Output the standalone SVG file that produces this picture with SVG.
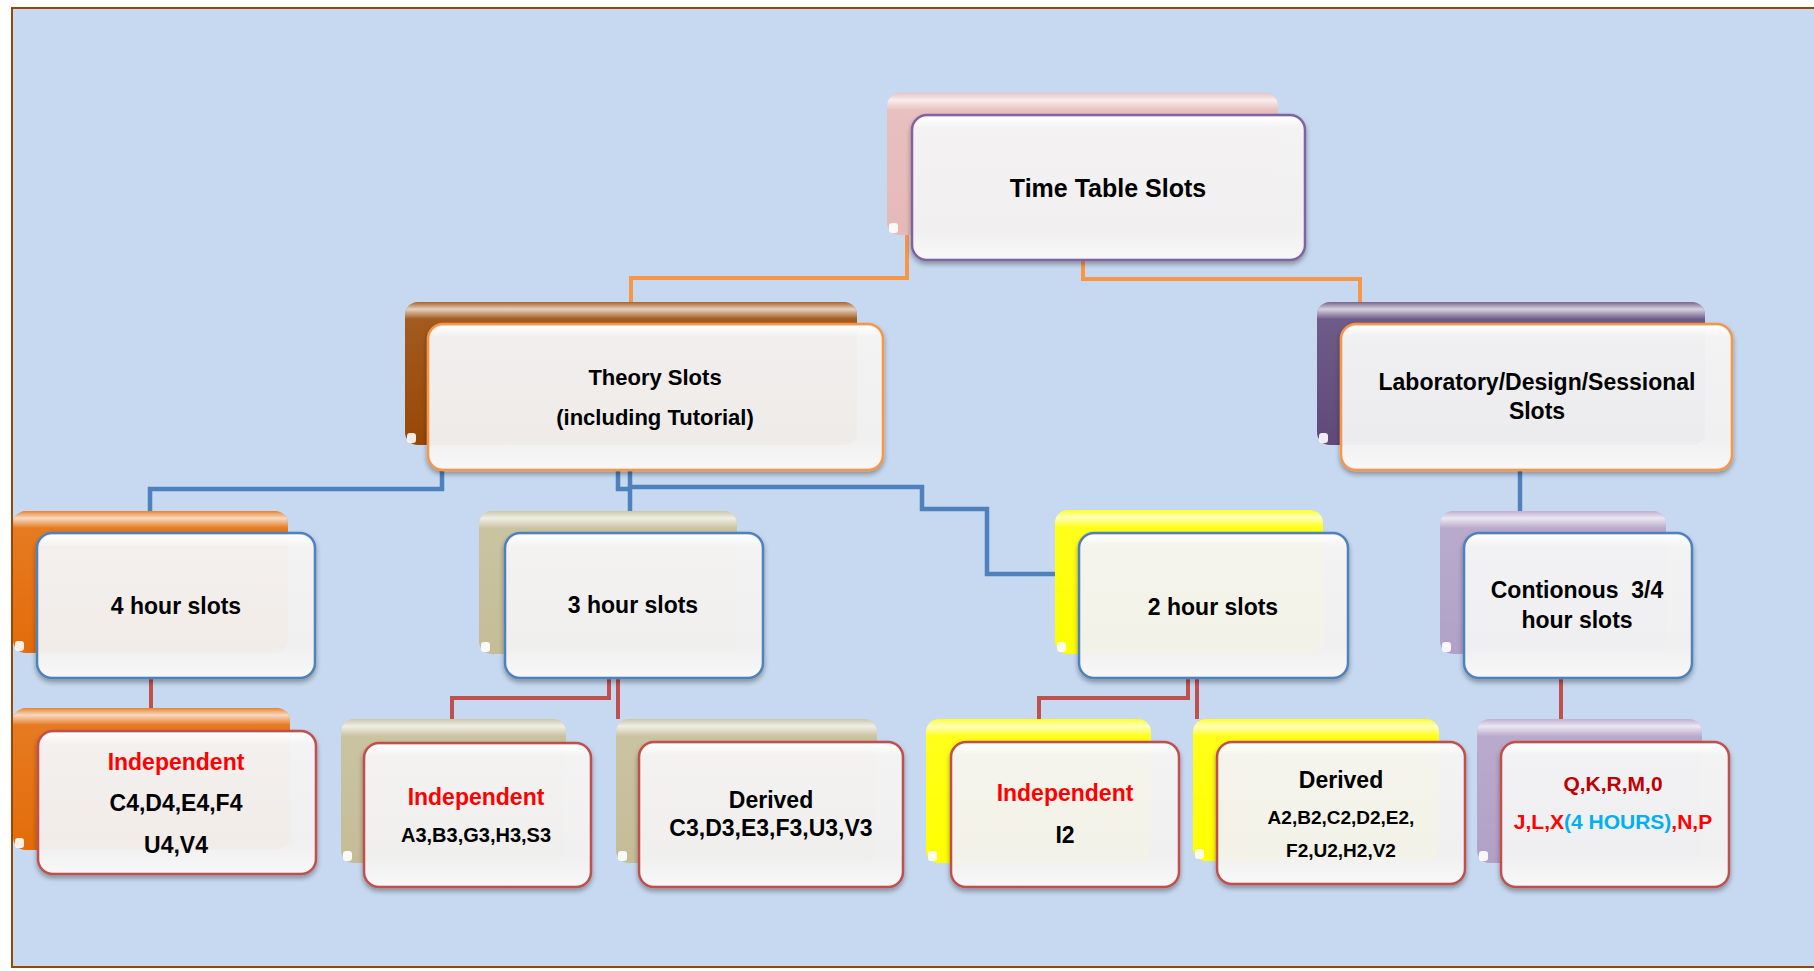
<svg xmlns="http://www.w3.org/2000/svg" width="1814" height="971" viewBox="0 0 1814 971">
<style>
text{font-family:"Liberation Sans",Arial,sans-serif;font-weight:bold;text-anchor:middle;fill:#000}
.red{fill:#ff0000}
.dred{fill:#c00000}
.cyan{fill:#00b0f0}
.back{stroke:none}
.gloss{fill:url(#gl)}
.front{fill:#f3f3f3;fill-opacity:0.94;stroke-width:2.5;filter:url(#sh)}
.fgloss{fill:url(#fgl)}
.corner{fill:#fff;fill-opacity:0.9}
.c-or{fill:none;stroke:#f79646;stroke-width:4}
.c-bl{fill:none;stroke:#4f81bd;stroke-width:4.5}
.c-rd{fill:none;stroke:#c0504d;stroke-width:4}
.b-pu{stroke:#8064a2}
.b-or{stroke:#f79646}
.b-bl{stroke:#4f81bd}
.b-rd{stroke:#c0504d}
</style>
<defs>
<linearGradient id="gl" x1="0" y1="0" x2="0" y2="1">
<stop offset="0" stop-color="#fff" stop-opacity="0.15"/>
<stop offset="0.05" stop-color="#fff" stop-opacity="0.75"/>
<stop offset="0.12" stop-color="#fff" stop-opacity="0.1"/>
<stop offset="1" stop-color="#fff" stop-opacity="0"/>
</linearGradient>
<linearGradient id="fgl" x1="0" y1="0" x2="0" y2="1">
<stop offset="0" stop-color="#fff" stop-opacity="1"/>
<stop offset="0.08" stop-color="#fff" stop-opacity="0.2"/>
<stop offset="0.8" stop-color="#fff" stop-opacity="0"/>
<stop offset="1" stop-color="#fff" stop-opacity="0.5"/>
</linearGradient>
<filter id="sh" x="-10%" y="-10%" width="120%" height="130%">
<feDropShadow dx="0" dy="3" stdDeviation="2.5" flood-color="#000" flood-opacity="0.35"/>
</filter>
</defs>
<rect x="0" y="0" width="1814" height="971" fill="#fff"/>
<rect x="12" y="8" width="1810" height="959" fill="#c6d9f0" stroke="#984806" stroke-width="2"/>

<g id="connectors">
<path class="c-or" d="M907,235 V278 H631 V302"/>
<path class="c-or" d="M1083,260 V279 H1360 V302"/>
<path class="c-bl" d="M442,470 V489 H150 V511"/>
<path class="c-bl" d="M618,470 V489 H630 V511"/>
<path class="c-bl" d="M630,470 V487 H922 V509 H987 V574 H1055"/>
<path class="c-bl" d="M1520,470 V511"/>
<path class="c-rd" d="M151,678 V708"/>
<path class="c-rd" d="M609,677 V698 H452 V719"/>
<path class="c-rd" d="M618,677 V719"/>
<path class="c-rd" d="M1188,678 V698 H1039 V719"/>
<path class="c-rd" d="M1197,678 V719"/>
<path class="c-rd" d="M1561,678 V719"/>
</g>

<g id="n-root">
<rect class="back" x="887" y="93" width="391" height="142" rx="13" fill="#e6b9b8"/>
<rect class="gloss" x="887" y="93" width="391" height="142" rx="13"/>
<rect class="corner" x="889" y="223" width="9" height="10" rx="3"/>
<rect class="front b-pu" x="912" y="115" width="393" height="145" rx="15"/>
<rect class="fgloss" x="914" y="117" width="389" height="141" rx="13"/>
<text x="1108" y="197" font-size="25">Time Table Slots</text>
</g>

<g id="n-theory">
<rect class="back" x="405" y="302" width="452" height="143" rx="13" fill="#984806"/>
<rect class="gloss" x="405" y="302" width="452" height="143" rx="13"/>
<rect class="corner" x="407" y="433" width="9" height="10" rx="3"/>
<rect class="front b-or" x="428" y="324" width="455" height="146" rx="15"/>
<rect class="fgloss" x="430" y="326" width="451" height="142" rx="13"/>
<text x="655" y="385" font-size="22">Theory Slots</text>
<text x="655" y="425" font-size="22">(including Tutorial)</text>
</g>

<g id="n-lab">
<rect class="back" x="1317" y="302" width="388" height="143" rx="13" fill="#5f497a"/>
<rect class="gloss" x="1317" y="302" width="388" height="143" rx="13"/>
<rect class="corner" x="1319" y="433" width="9" height="10" rx="3"/>
<rect class="front b-or" x="1341" y="324" width="391" height="146" rx="15"/>
<rect class="fgloss" x="1343" y="326" width="387" height="142" rx="13"/>
<text x="1537" y="390" font-size="23">Laboratory/Design/Sessional</text>
<text x="1537" y="419" font-size="23">Slots</text>
</g>

<g id="n-4h">
<rect class="back" x="13" y="511" width="275" height="142" rx="13" fill="#e36c09"/>
<rect class="gloss" x="13" y="511" width="275" height="142" rx="13"/>
<rect class="corner" x="15" y="641" width="9" height="10" rx="3"/>
<rect class="front b-bl" x="37" y="533" width="278" height="145" rx="15"/>
<rect class="fgloss" x="39" y="535" width="274" height="141" rx="13"/>
<text x="176" y="614" font-size="23">4 hour slots</text>
</g>

<g id="n-3h">
<rect class="back" x="479" y="511" width="258" height="143" rx="13" fill="#c4bd97"/>
<rect class="gloss" x="479" y="511" width="258" height="143" rx="13"/>
<rect class="corner" x="481" y="642" width="9" height="10" rx="3"/>
<rect class="front b-bl" x="505" y="533" width="258" height="145" rx="15"/>
<rect class="fgloss" x="507" y="535" width="254" height="141" rx="13"/>
<text x="633" y="613" font-size="23">3 hour slots</text>
</g>

<g id="n-2h">
<rect class="back" x="1055" y="510" width="268" height="144" rx="13" fill="#ffff00"/>
<rect class="gloss" x="1055" y="510" width="268" height="144" rx="13"/>
<rect class="corner" x="1057" y="642" width="9" height="10" rx="3"/>
<rect class="front b-bl" x="1079" y="533" width="269" height="145" rx="15"/>
<rect class="fgloss" x="1081" y="535" width="265" height="141" rx="13"/>
<text x="1213" y="615" font-size="23">2 hour slots</text>
</g>

<g id="n-cont">
<rect class="back" x="1440" y="511" width="226" height="143" rx="13" fill="#b2a1c7"/>
<rect class="gloss" x="1440" y="511" width="226" height="143" rx="13"/>
<rect class="corner" x="1442" y="642" width="9" height="10" rx="3"/>
<rect class="front b-bl" x="1464" y="533" width="228" height="145" rx="15"/>
<rect class="fgloss" x="1466" y="535" width="224" height="141" rx="13"/>
<text x="1577" y="598" font-size="23" xml:space="preserve">Contionous  3/4</text>
<text x="1577" y="628" font-size="23">hour slots</text>
</g>

<g id="n-ind4">
<rect class="back" x="13" y="708" width="277" height="142" rx="13" fill="#e36c09"/>
<rect class="gloss" x="13" y="708" width="277" height="142" rx="13"/>
<rect class="corner" x="15" y="838" width="9" height="10" rx="3"/>
<rect class="front b-rd" x="38" y="731" width="278" height="143" rx="15"/>
<rect class="fgloss" x="40" y="733" width="274" height="139" rx="13"/>
<text class="red" x="176" y="770" font-size="23">Independent</text>
<text x="176" y="811" font-size="23">C4,D4,E4,F4</text>
<text x="176" y="853" font-size="23">U4,V4</text>
</g>

<g id="n-ind3">
<rect class="back" x="341" y="719" width="225" height="144" rx="13" fill="#c4bd97"/>
<rect class="gloss" x="341" y="719" width="225" height="144" rx="13"/>
<rect class="corner" x="343" y="851" width="9" height="10" rx="3"/>
<rect class="front b-rd" x="364" y="743" width="227" height="144" rx="15"/>
<rect class="fgloss" x="366" y="745" width="223" height="140" rx="13"/>
<text class="red" x="476" y="805" font-size="23">Independent</text>
<text x="476" y="842" font-size="20">A3,B3,G3,H3,S3</text>
</g>

<g id="n-der3">
<rect class="back" x="616" y="719" width="261" height="144" rx="13" fill="#c4bd97"/>
<rect class="gloss" x="616" y="719" width="261" height="144" rx="13"/>
<rect class="corner" x="618" y="851" width="9" height="10" rx="3"/>
<rect class="front b-rd" x="639" y="742" width="264" height="145" rx="15"/>
<rect class="fgloss" x="641" y="744" width="260" height="141" rx="13"/>
<text x="771" y="808" font-size="23">Derived</text>
<text x="771" y="836" font-size="23">C3,D3,E3,F3,U3,V3</text>
</g>

<g id="n-ind2">
<rect class="back" x="926" y="719" width="225" height="144" rx="13" fill="#ffff00"/>
<rect class="gloss" x="926" y="719" width="225" height="144" rx="13"/>
<rect class="corner" x="928" y="851" width="9" height="10" rx="3"/>
<rect class="front b-rd" x="951" y="742" width="228" height="145" rx="15"/>
<rect class="fgloss" x="953" y="744" width="224" height="141" rx="13"/>
<text class="red" x="1065" y="801" font-size="23">Independent</text>
<text x="1065" y="843" font-size="23">I2</text>
</g>

<g id="n-der2">
<rect class="back" x="1193" y="719" width="246" height="142" rx="13" fill="#ffff00"/>
<rect class="gloss" x="1193" y="719" width="246" height="142" rx="13"/>
<rect class="corner" x="1195" y="849" width="9" height="10" rx="3"/>
<rect class="front b-rd" x="1217" y="742" width="248" height="142" rx="15"/>
<rect class="fgloss" x="1219" y="744" width="244" height="138" rx="13"/>
<text x="1341" y="788" font-size="23">Derived</text>
<text x="1341" y="824" font-size="19">A2,B2,C2,D2,E2,</text>
<text x="1341" y="857" font-size="19">F2,U2,H2,V2</text>
</g>

<g id="n-lab4">
<rect class="back" x="1477" y="719" width="225" height="144" rx="13" fill="#b2a1c7"/>
<rect class="gloss" x="1477" y="719" width="225" height="144" rx="13"/>
<rect class="corner" x="1479" y="851" width="9" height="10" rx="3"/>
<rect class="front b-rd" x="1501" y="742" width="228" height="145" rx="15"/>
<rect class="fgloss" x="1503" y="744" width="224" height="141" rx="13"/>
<text class="dred" x="1613" y="791" font-size="21">Q,K,R,M,0</text>
<text x="1613" y="829" font-size="21"><tspan class="red">J,L,X</tspan><tspan class="cyan">(4 HOURS)</tspan><tspan class="red">,N,P</tspan></text>
</g>
</svg>
